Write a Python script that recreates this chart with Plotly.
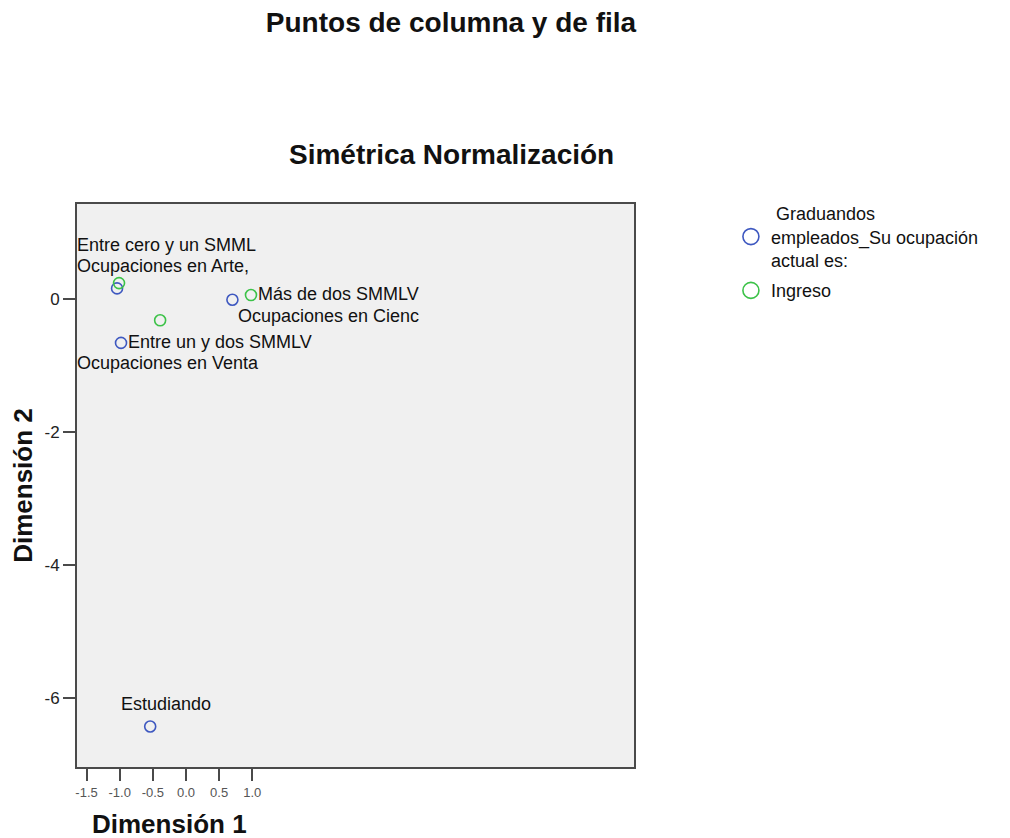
import plotly.graph_objects as go

# ---- data ----
row_labels = ["Ocupaciones en Arte,", "Ocupaciones en Cienc", "Ocupaciones en Venta", "Estudiando"]
row_dim1 = [-1.04, 0.70, -0.98, -0.54]
row_dim2 = [0.16, -0.01, -0.66, -6.43]

col_labels = ["Entre cero y un SMML", "Más de dos SMMLV", "Entre un y dos SMMLV"]
col_dim1 = [-1.01, 0.98, -0.39]
col_dim2 = [0.24, 0.06, -0.32]

x_ticks = [-1.5, -1.0, -0.5, 0.0, 0.5, 1.0]
x_tick_text = ["-1.5", "-1.0", "-0.5", "0.0", "0.5", "1.0"]
y_ticks = [0, -2, -4, -6]
y_tick_text = ["0", "-2", "-4", "-6"]

row_name = "\u00a0Graduandos<br>empleados_Su ocupación<br>actual es:"
col_name = "Ingreso"

# ---- style ----
BLUE = "#3E58C0"
GREEN = "#3CC248"
FONT = "Liberation Sans, Arial, sans-serif"
row_shift = [(-42, 22), (4, -16), (-46, -20), (-31, 22)]
col_shift = [(-44, 38), (5, 1), (-34, -22)]

W, H = 1010, 838

fig = go.Figure()
# data traces
fig.add_trace(go.Scatter(
    x=row_dim1, y=row_dim2, mode="markers", name=row_name, legendgroup="row",
    showlegend=False,
    marker=dict(symbol="circle-open", size=11, color=BLUE, line=dict(width=1.6, color=BLUE)),
))
fig.add_trace(go.Scatter(
    x=col_dim1, y=col_dim2, mode="markers", name=col_name, legendgroup="col",
    showlegend=False,
    marker=dict(symbol="circle-open", size=11, color=GREEN, line=dict(width=1.6, color=GREEN)),
))
# legend entries (larger symbols, as in the reference legend)
fig.add_trace(go.Scatter(
    x=[None], y=[None], mode="markers", name=row_name, legendgroup="row",
    marker=dict(symbol="circle-open", size=16, color=BLUE, line=dict(width=1.6, color=BLUE)),
))
fig.add_trace(go.Scatter(
    x=[None], y=[None], mode="markers", name=col_name, legendgroup="col",
    marker=dict(symbol="circle-open", size=16, color=GREEN, line=dict(width=1.6, color=GREEN)),
))

annotations = []
for lab, xv, yv, (dx, dy) in zip(row_labels, row_dim1, row_dim2, row_shift):
    annotations.append(dict(x=xv, y=yv, xref="x", yref="y", text=lab, showarrow=False,
                            xanchor="left", yanchor="middle", xshift=dx, yshift=dy,
                            font=dict(family=FONT, size=18, color="#111")))
for lab, xv, yv, (dx, dy) in zip(col_labels, col_dim1, col_dim2, col_shift):
    annotations.append(dict(x=xv, y=yv, xref="x", yref="y", text=lab, showarrow=False,
                            xanchor="left", yanchor="middle", xshift=dx, yshift=dy,
                            font=dict(family=FONT, size=18, color="#111")))

# subtitle
annotations.append(dict(x=0.673, y=1.0888, xref="paper", yref="paper",
                        text="<b>Simétrica Normalización</b>", showarrow=False,
                        xanchor="center", yanchor="middle",
                        font=dict(family=FONT, size=28, color="#111")))
# x axis title (centred on the tick range)
annotations.append(dict(x=(x_ticks[0] + x_ticks[-1]) / 2, y=-0.101, xref="x", yref="paper",
                        text="<b>Dimensión 1</b>", showarrow=False,
                        xanchor="center", yanchor="middle",
                        font=dict(family=FONT, size=26, color="#111")))

fig.update_layout(
    width=W, height=H,
    margin=dict(l=77, r=376, t=204, b=71),
    paper_bgcolor="white", plot_bgcolor="#f0f0f0",
    font=dict(family=FONT, color="#111"),
    title=dict(text="<b>Puntos de columna y de fila</b>", x=451 / W, xref="container",
               xanchor="center", y=1 - 22 / H, yanchor="middle",
               font=dict(family=FONT, size=28, color="#111")),
    showlegend=True,
    legend=dict(x=1.174, y=1.016, xanchor="left", yanchor="top",
                font=dict(family=FONT, size=18, color="#111"),
                bgcolor="rgba(0,0,0,0)", itemsizing="trace", tracegroupgap=4),
    annotations=annotations,
)
fig.update_xaxes(
    range=[-1.644, 6.757], tickvals=x_ticks, ticktext=x_tick_text,
    showgrid=False, zeroline=False, showline=True, mirror=True,
    linecolor="#4a4a4a", linewidth=2, ticks="outside", ticklen=12, tickwidth=2,
    tickcolor="#4a4a4a", tickfont=dict(family=FONT, size=13, color="#555"),
)
fig.update_yaxes(
    range=[-7.04, 1.43], tickvals=y_ticks, ticktext=y_tick_text,
    showgrid=False, zeroline=False, showline=True, mirror=True,
    linecolor="#4a4a4a", linewidth=2, ticks="outside", ticklen=12, tickwidth=2,
    tickcolor="#4a4a4a", tickfont=dict(family=FONT, size=17, color="#222"),
    title=dict(text="<b>Dimensión 2</b>", standoff=4,
               font=dict(family=FONT, size=26, color="#111")),
)

fig.write_html(
    "out.html",
    config={"displayModeBar": False},
    post_script="document.body.style.margin='0';document.body.style.overflow='hidden';",
)
